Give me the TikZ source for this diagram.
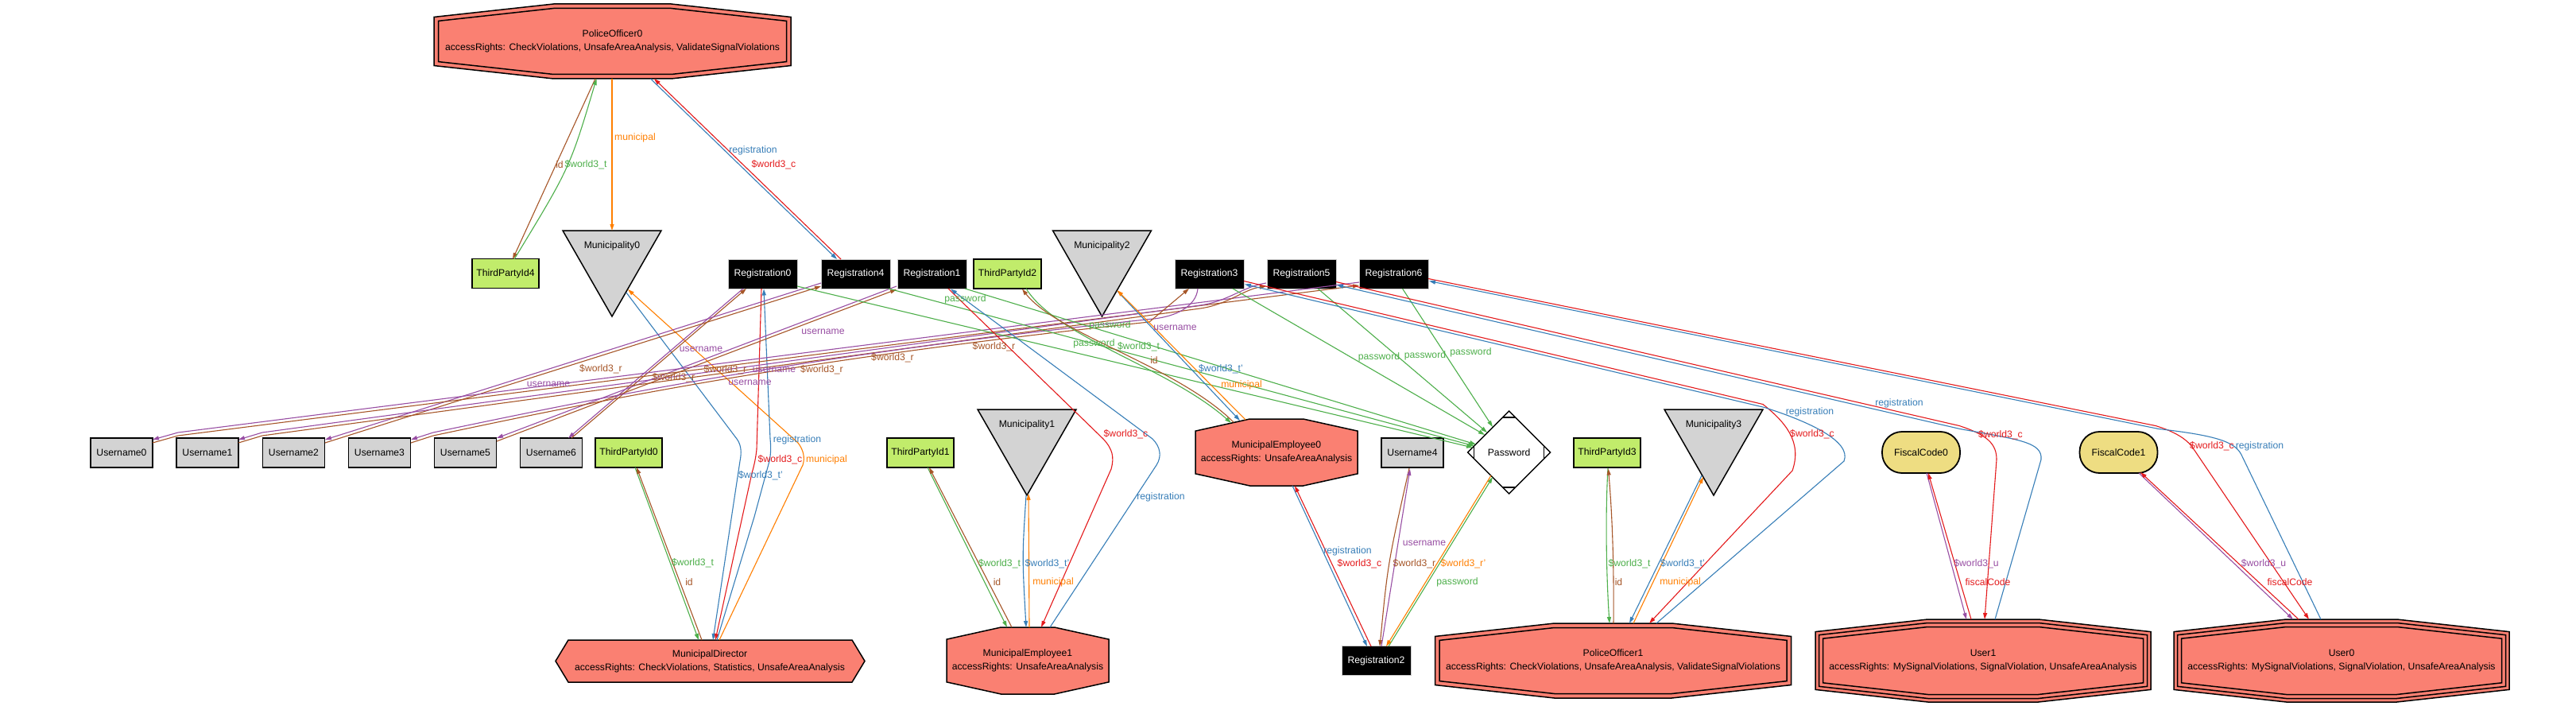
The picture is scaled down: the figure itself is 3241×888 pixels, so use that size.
\documentclass[tikz,border=0pt]{standalone}
\usepackage{fontspec}
\setmainfont{Liberation Sans}
\usetikzlibrary{calc,arrows.meta}
\definecolor{cR}{HTML}{E41A1C}
\definecolor{cB}{HTML}{377EB8}
\definecolor{cG}{HTML}{4DAF4A}
\definecolor{cP}{HTML}{984EA3}
\definecolor{cO}{HTML}{FF7F00}
\definecolor{cBr}{HTML}{A65628}
\definecolor{salmonc}{HTML}{FA8072}
\definecolor{ugray}{HTML}{D3D3D3}
\definecolor{tpgreen}{HTML}{C1EC6B}
\definecolor{fcyellow}{HTML}{EEDD82}
\newcommand\OctShape[7]{%
  \path[#7] ({#1-#3+#5},{#2-#6*#4+0.9*#5}) -- ({#1-0.33*#3},{#2-#4+#5}) -- ({#1+0.33*#3},{#2-#4+#5}) -- ({#1+#3-#5},{#2-#6*#4+0.9*#5}) -- ({#1+#3-#5},{#2+#6*#4-0.9*#5}) -- ({#1+0.33*#3},{#2+#4-#5}) -- ({#1-0.33*#3},{#2+#4-#5}) -- ({#1-#3+#5},{#2+#6*#4-0.9*#5}) -- cycle;}
\newcommand\TriShape[2]{%
  \filldraw[fill=ugray,draw=black,line width=1.5pt,line join=miter] ({#1-62},{#2-54}) -- ({#1+62},{#2-54}) -- (#1,{#2+54}) -- cycle;}
\tikzset{
  every node/.style={font=\fontsize{12.2}{17}\selectfont, inner sep=0pt},
  regbox/.style={fill=black, draw=black!20, line width=1pt, minimum width=87pt, minimum height=37pt, text=white},
  ubox/.style={fill=ugray, draw=black, line width=1.5pt, minimum width=78pt, minimum height=37pt},
  tpbox/.style={fill=tpgreen, draw=black, line width=1.5pt, minimum width=84pt, minimum height=37pt},
  fcbox/.style={fill=fcyellow, draw=black, line width=1.8pt, minimum width=98pt, minimum height=52pt, rounded corners=25pt},
  munbox/.style={minimum width=124pt, minimum height=108pt},
  octtxt/.style={align=center},
  lbl/.style={inner sep=0pt},
  edge/.style={line width=1.1pt, -{Triangle[length=8pt,width=5pt]}},
  octfill/.style={fill=salmonc, draw=black, line width=1.5pt},
  octline/.style={draw=black, line width=1.5pt},
}
\begin{document}
\begin{tikzpicture}[x=1pt,y=-1pt]
\fill[white] (0,0) rectangle (3241,888);
\useasboundingbox (0,0) rectangle (3241,888);

% ---------- shapes and nodes ----------
\OctShape{770.5}{52}{224.5}{47}{0}{0.65}{octfill}
\OctShape{770.5}{52}{224.5}{47}{5.5}{0.65}{octline}
\node[octtxt] (po0) at (770.5,52) {PoliceOfficer0\\accessRights: CheckViolations, UnsafeAreaAnalysis, ValidateSignalViolations};

\node[tpbox] (tp4) at (636,344) {ThirdPartyId4};
\TriShape{770}{344}
\node[munbox, label={[yshift=35pt]center:Municipality0}] (mun0) at (770,344) {};
\node[regbox] (reg0) at (959.5,344.5) {Registration0};
\node[regbox] (reg4) at (1076.5,344.5) {Registration4};
\node[regbox] (reg1) at (1172.5,344.5) {Registration1};
\node[tpbox, minimum width=85pt] (tp2) at (1267.5,344.5) {ThirdPartyId2};
\TriShape{1386.5}{344}
\node[munbox, label={[yshift=35pt]center:Municipality2}] (mun2) at (1386.5,344) {};
\node[regbox] (reg3) at (1521.5,344.5) {Registration3};
\node[regbox] (reg5) at (1637.5,344.5) {Registration5};
\node[regbox] (reg6) at (1753.5,344.5) {Registration6};

\node[ubox] (u0) at (153,569.5) {Username0};
\node[ubox] (u1) at (261,569.5) {Username1};
\node[ubox] (u2) at (369.5,569.5) {Username2};
\node[ubox] (u3) at (477.5,569.5) {Username3};
\node[ubox] (u5) at (585.5,569.5) {Username5};
\node[ubox] (u6) at (693.5,569.5) {Username6};
\node[tpbox] (tp0) at (791,569.5) {ThirdPartyId0};
\node[tpbox] (tp1) at (1158,569.5) {ThirdPartyId1};
\TriShape{1292}{569}
\node[munbox, label={[yshift=35pt]center:Municipality1}] (mun1) at (1292,569) {};
\OctShape{1606}{569}{102}{42}{0}{0.64}{octfill}
\node[octtxt] (me0) at (1606,569) {MunicipalEmployee0\\accessRights: UnsafeAreaAnalysis};
\node[ubox] (u4) at (1777,569.5) {Username4};
% Password (Mdiamond)
\filldraw[fill=white,draw=black,line width=1.5pt,line join=miter] (1898.6,517) -- (1950.6,569) -- (1898.6,621) -- (1846.6,569) -- cycle;
\draw[black,line width=1.2pt] (1890.6,525) -- (1906.6,525) (1890.6,613) -- (1906.6,613)
  (1854.6,561) -- (1854.6,577) (1942.6,561) -- (1942.6,577);
\node (pw) at (1898.6,569) {Password};
\node[tpbox] (tp3) at (2022,569.5) {ThirdPartyId3};
\TriShape{2156}{569}
\node[munbox, label={[yshift=35pt]center:Municipality3}] (mun3) at (2156,569) {};
\node[fcbox] (fc0) at (2417,569) {FiscalCode0};
\node[fcbox] (fc1) at (2665.5,569) {FiscalCode1};

% bottom row
\filldraw[fill=salmonc,draw=black,line width=1.5pt,line join=miter] (715,805) -- (1072,805) -- (1088,831.5) -- (1072,858) -- (715,858) -- (699,831.5) -- cycle;
\node[octtxt] (md) at (893,831.5) {MunicipalDirector\\accessRights: CheckViolations, Statistics, UnsafeAreaAnalysis};
\OctShape{1293}{831}{102}{42}{0}{0.64}{octfill}
\node[octtxt] (me1) at (1293,831) {MunicipalEmployee1\\accessRights: UnsafeAreaAnalysis};
\node[regbox] (reg2) at (1731.5,831) {Registration2};
\OctShape{2029.5}{831}{224}{47}{0}{0.65}{octfill}
\OctShape{2029.5}{831}{224}{47}{5.5}{0.65}{octline}
\node[octtxt] (po1) at (2029.5,831) {PoliceOfficer1\\accessRights: CheckViolations, UnsafeAreaAnalysis, ValidateSignalViolations};
\OctShape{2495}{831}{211}{52}{0}{0.7}{octfill}
\OctShape{2495}{831}{211}{52}{4.5}{0.7}{octline}
\OctShape{2495}{831}{211}{52}{9.5}{0.7}{octline}
\node[octtxt] (user1) at (2495,831) {User1\\accessRights: MySignalViolations, SignalViolation, UnsafeAreaAnalysis};
\OctShape{2946}{831}{211}{52}{0}{0.7}{octfill}
\OctShape{2946}{831}{211}{52}{4.5}{0.7}{octline}
\OctShape{2946}{831}{211}{52}{9.5}{0.7}{octline}
\node[octtxt] (user0) at (2946,831) {User0\\accessRights: MySignalViolations, SignalViolation, UnsafeAreaAnalysis};

% ---------- edges ----------
% PoliceOfficer0
\draw[edge,cBr] ($(po0)+(-21.5,47)$) -- ($(tp4)+(9,-18)$);
\draw[edge,cG] ($(tp4)+(11,-18)$) .. controls (717,211) .. ($(po0)+(-20,47)$);
\draw[edge,cO] ($(po0)+(-0.5,47)$) -- ($(mun0)+(0,-54)$);
\draw[edge,cR] ($(reg4)+(-18.5,-18.5)$) -- ($(po0)+(52.5,47)$);
\draw[edge,cB] ($(po0)+(48,47)$) -- ($(reg4)+(-23.5,-18.5)$);
% MunicipalDirector
\draw[edge,cG] ($(tp0)+(8,18.5)$) -- ($(md)+(-14,-26.5)$);
\draw[edge,cBr] ($(md)+(-10,-26.5)$) -- ($(tp0)+(10,18.5)$);
\draw[edge,cB] ($(mun0)+(18,24)$) -- (927,552) .. controls (933,560) and (933,570) .. (931,580) -- ($(md)+(4,-26.5)$);
\draw[edge,cO] ($(md)+(12,-26.5)$) -- (1010,585) .. controls (1013,576) and (1011,566) .. (1004,557) -- ($(mun0)+(20,20)$);
\draw[edge,cR] ($(reg0)+(-1.5,18.5)$) -- (952,565) .. controls (951,575) and (949,585) .. (946,595) -- ($(md)+(7,-26.5)$);
\draw[edge,cB] ($(md)+(9,-26.5)$) -- (949,650) -- (968,580) .. controls (970,570) and (970,562) .. (969,552) -- ($(reg0)+(1.5,19)$);
% Username edges
\draw[edge,cP] ($(reg0)+(-24.5,18.5)$) -- ($(u6)+(21.5,-18.5)$);
\draw[edge,cBr] ($(u6)+(25.5,-18.5)$) -- ($(reg0)+(-20.5,18.5)$);
\draw[edge,cP] ($(reg4)+(-43.5,11.5)$) -- ($(u2)+(39.5,-16.5)$);
\draw[edge,cBr] ($(u2)+(39.5,-12.5)$) -- ($(reg4)+(-43.5,15.5)$);
\draw[edge,cP] ($(reg1)+(-44.5,15.5)$) -- ($(u5)+(39.5,-18.5)$);
\draw[edge,cBr] ($(u5)+(39.5,-14.5)$) -- ($(reg1)+(-44.5,19.5)$);
\draw[edge,cP] ($(reg6)+(-43.5,10.5)$) -- (224,544) -- ($(u0)+(39,-16.5)$);
\draw[edge,cBr] ($(u0)+(39,-12.5)$) -- (224,548) -- ($(reg6)+(-43.5,14.5)$);
\draw[edge,cP] ($(reg5)+(-44.5,11.5)$) .. controls (1565,360) and (1545,379) .. (1510,384) -- (330,544) -- ($(u1)+(39,-16.5)$);
\draw[edge,cBr] ($(u1)+(39,-12.5)$) -- (330,548) -- (1510,388) .. controls (1545,383) and (1565,364) .. ($(reg5)+(-44.5,15.5)$);
\draw[edge,cP] ($(reg3)+(-14.5,18.5)$) .. controls (1505,385) and (1480,399) .. (1446,401.5) .. controls (1000,449) and (760,499) .. (545,544) -- ($(u3)+(39.5,-16.5)$);
\draw[edge,cBr] ($(u3)+(39.5,-12.5)$) -- (545,548) .. controls (760,502.5) and (1000,452.5) .. (1446,405) -- ($(reg3)+(-25.5,18.5)$);
\draw[edge,cBr] ($(u4)+(-4,19.5)$) .. controls (1746,709) .. ($(reg2)+(4.5,-18)$);
\draw[edge,cP] ($(reg2)+(6.5,-18)$) -- ($(u4)+(-3,20.5)$);
% Password edges
\draw[edge,cG] ($(reg0)+(43.5,15.5)$) -- ($(pw)+(-45.6,-6)$);
\draw[edge,cG] ($(reg4)+(41.5,18.5)$) -- ($(pw)+(-43.6,-8)$);
\draw[edge,cG] ($(reg1)+(41.5,18.5)$) -- ($(pw)+(-41.6,-10)$);
\draw[edge,cG] ($(reg3)+(29.5,18.5)$) -- ($(pw)+(-30.6,-22)$);
\draw[edge,cG] ($(reg5)+(20.5,18.5)$) -- ($(pw)+(-27.6,-25)$);
\draw[edge,cG] ($(reg6)+(11,18.5)$) -- ($(pw)+(-20.6,-32)$);
\draw[edge,cG] ($(reg2)+(15.5,-18)$) -- ($(pw)+(-20.6,31)$);
\draw[edge,cO] ($(pw)+(-22.6,29)$) -- ($(reg2)+(12.5,-18)$);
% MunicipalEmployee0
\draw[edge,cG] ($(tp2)+(23.5,18.5)$) .. controls (1330,425) and (1470,462) .. ($(me0)+(-57,-37)$);
\draw[edge,cBr] ($(me0)+(-54,-38)$) .. controls (1480,460) and (1330,420) .. ($(tp2)+(18.5,19)$);
\draw[edge,cB] ($(mun2)+(20,23)$) -- ($(me0)+(-46,-40)$);
\draw[edge,cO] ($(me0)+(-39,-41)$) -- ($(mun2)+(19,21)$);
\draw[edge,cB] ($(me0)+(20,42)$) -- ($(reg2)+(-11.5,-18)$);
\draw[edge,cR] ($(reg2)+(-6.5,-18)$) -- ($(me0)+(23,42)$);
% MunicipalEmployee1
\draw[edge,cG] ($(tp1)+(9,18.5)$) -- ($(me1)+(-26,-42)$);
\draw[edge,cBr] ($(me1)+(-20,-42)$) -- ($(tp1)+(11,18.5)$);
\draw[edge,cB] ($(mun1)+(-1,54)$) .. controls (1286,700) .. ($(me1)+(-2,-42)$);
\draw[edge,cO] ($(me1)+(2,-42)$) -- ($(mun1)+(2,52)$);
\draw[edge,cR] ($(reg1)+(20.5,18.5)$) -- (1388,552) .. controls (1400,565) and (1402,575) .. (1398,590) -- ($(me1)+(17,-42)$);
\draw[edge,cB] ($(me1)+(28,-42)$) -- (1455,585) .. controls (1462,574) and (1460,562) .. (1450,552) -- ($(reg1)+(23.5,19)$);
% PoliceOfficer1
\draw[edge,cG] ($(tp3)+(1,19)$) .. controls (2019,660) and (2022,740) .. ($(po1)+(-4.5,-47)$);
\draw[edge,cBr] ($(po1)+(0.5,-47)$) .. controls (2031,680) and (2026,620) .. ($(tp3)+(1.5,20)$);
\draw[edge,cB] ($(mun3)+(-15,29)$) -- ($(po1)+(20.5,-47)$);
\draw[edge,cO] ($(po1)+(25.5,-47)$) -- ($(mun3)+(-13,31)$);
\draw[edge,cR] ($(reg3)+(43.5,9)$) -- (2218,508.5) .. controls (2245,530) and (2268,555) .. (2255,592) -- ($(po1)+(45.5,-47)$);
\draw[edge,cB] ($(po1)+(54.5,-47)$) -- (2320,580) .. controls (2330,555) and (2275,530) .. (2220,512.5) -- ($(reg3)+(44.5,13)$);
% User1
\draw[edge,cR] ($(reg5)+(43.5,10)$) -- (2465,535.5) .. controls (2500,547) and (2512,558) .. (2512,578) -- ($(user1)+(2,-52)$);
\draw[edge,cB] ($(user1)+(15,-52)$) -- (2568,578) .. controls (2570,556) and (2540,553) .. (2466,539.5) -- ($(reg5)+(44.5,14)$);
\draw[edge,cP] ($(fc0)+(7,26)$) -- ($(user1)+(-21,-52)$);
\draw[edge,cR] ($(user1)+(-15,-52)$) -- ($(fc0)+(9,26)$);
% User0
\draw[edge,cR] ($(reg6)+(43.5,6)$) -- (2712,535.5) .. controls (2730,541) and (2748,549) .. (2758,562) -- ($(user0)+(-41,-52)$);
\draw[edge,cB] ($(user0)+(-26,-52)$) -- (2820,572) .. controls (2812,556) and (2790,548) .. (2716,539.5) -- ($(reg6)+(44.5,9)$);
\draw[edge,cP] ($(fc1)+(25.5,26)$) -- ($(user0)+(-61,-52)$);
\draw[edge,cR] ($(user0)+(-54,-52)$) -- ($(fc1)+(27.5,25)$);

% ---------- edge labels ----------
\node[lbl,text=cBr] (l1) at (704,207) {id};
\node[lbl,text=cG] (l2) at (737,207) {\$world3\_t};
\node[lbl,text=cO] (l3) at (799,173) {municipal};
\node[lbl,text=cB] (l4) at (947.5,189) {registration};
\node[lbl,text=cR] (l5) at (973.5,207) {\$world3\_c};
\node[lbl,text=cG] (l6) at (871.5,708) {\$world3\_t};
\node[lbl,text=cBr] (l7) at (867,732) {id};
\node[lbl,text=cB] (l8) at (1003,553) {registration};
\node[lbl,text=cR] (l9) at (981.5,578) {\$world3\_c};
\node[lbl,text=cO] (l10) at (1040,578) {municipal};
\node[lbl,text=cB] (l11) at (957,598) {\$world3\_t'};
\node[lbl,text=cP] (l12) at (690,483) {username};
\node[lbl,text=cP] (l13) at (882,439) {username};
\node[lbl,text=cP] (l14) at (974,465) {username};
\node[lbl,text=cP] (l15) at (943.5,481) {username};
\node[lbl,text=cP] (l16) at (1035.5,417) {username};
\node[lbl,text=cP] (l17) at (1478.5,412) {username};
\node[lbl,text=cP] (l18) at (1792,683) {username};
\node[lbl,text=cBr] (l19) at (756,464) {\$world3\_r};
\node[lbl,text=cBr] (l20) at (847.5,475) {\$world3\_r};
\node[lbl,text=cBr] (l21) at (912.5,465) {\$world3\_r};
\node[lbl,text=cBr] (l22) at (1034,465) {\$world3\_r};
\node[lbl,text=cBr] (l23) at (1123,450) {\$world3\_r};
\node[lbl,text=cBr] (l24) at (1250.5,436) {\$world3\_r};
\node[lbl,text=cBr] (l25) at (1779.5,709) {\$world3\_r};
\node[lbl,text=cG] (l26) at (1214.5,376) {password};
\node[lbl,text=cG] (l27) at (1396.5,409) {password};
\node[lbl,text=cG] (l28) at (1376.5,432) {password};
\node[lbl,text=cG] (l29) at (1735,449) {password};
\node[lbl,text=cG] (l30) at (1793,447) {password};
\node[lbl,text=cG] (l31) at (1850.5,443) {password};
\node[lbl,text=cG] (l32) at (1833.5,732) {password};
\node[lbl,text=cO] (l33) at (1841,709) {\$world3\_r'};
\node[lbl,text=cG] (l34) at (1432.5,436) {\$world3\_t};
\node[lbl,text=cBr] (l35) at (1452,453) {id};
\node[lbl,text=cB] (l36) at (1536,464) {\$world3\_t'};
\node[lbl,text=cO] (l37) at (1562,484) {municipal};
\node[lbl,text=cB] (l38) at (1695.5,693) {registration};
\node[lbl,text=cR] (l39) at (1710.5,709) {\$world3\_c};
\node[lbl,text=cG] (l40) at (1257.5,709) {\$world3\_t};
\node[lbl,text=cBr] (l41) at (1254.5,732) {id};
\node[lbl,text=cB] (l42) at (1317.5,709) {\$world3\_t'};
\node[lbl,text=cO] (l43) at (1325,732) {municipal};
\node[lbl,text=cR] (l44) at (1416.5,546) {\$world3\_c};
\node[lbl,text=cB] (l45) at (1460.5,625) {registration};
\node[lbl,text=cG] (l46) at (2050,709) {\$world3\_t};
\node[lbl,text=cBr] (l47) at (2036.5,732) {id};
\node[lbl,text=cB] (l48) at (2117,709) {\$world3\_t'};
\node[lbl,text=cO] (l49) at (2114,732) {municipal};
\node[lbl,text=cB] (l50) at (2277,518) {registration};
\node[lbl,text=cR] (l51) at (2280,546) {\$world3\_c};
\node[lbl,text=cB] (l52) at (2389.5,507) {registration};
\node[lbl,text=cR] (l53) at (2517,547) {\$world3\_c};
\node[lbl,text=cP] (l54) at (2486.5,709) {\$world3\_u};
\node[lbl,text=cR] (l55) at (2501,732) {fiscalCode};
\node[lbl,text=cR] (l56) at (2783,561) {\$world3\_c};
\node[lbl,text=cB] (l57) at (2843,561) {registration};
\node[lbl,text=cP] (l58) at (2848,709) {\$world3\_u};
\node[lbl,text=cR] (l59) at (2881,732) {fiscalCode};
\end{tikzpicture}
\end{document}
